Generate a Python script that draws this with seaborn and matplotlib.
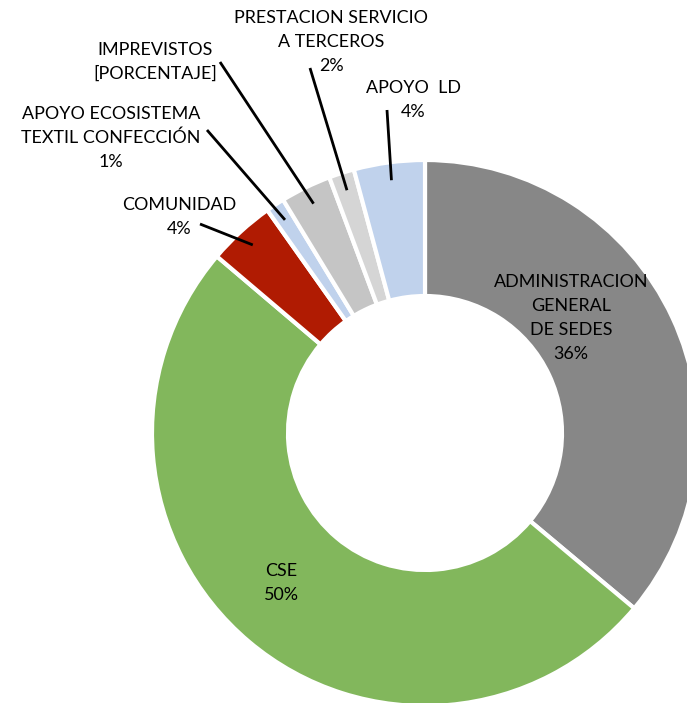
import numpy as np
import matplotlib
matplotlib.use("Agg")
import matplotlib.pyplot as plt
import seaborn as sns

# ---- data ----
categories = ["ADMINISTRACION\nGENERAL\nDE SEDES", "CSE", "COMUNIDAD",
              "APOYO ECOSISTEMA\nTEXTIL CONFECCIÓN", "IMPREVISTOS",
              "PRESTACION SERVICIO\nA TERCEROS", "APOYO  LD"]
values = [36.1, 50.1, 4.0, 1.1, 3.0, 1.5, 4.2]
value_labels = ["36%", "50%", "4%", "1%", "[PORCENTAJE]", "2%", "4%"]
colors = ["#878787", "#82b75c", "#b01b02", "#c0d2ec", "#c5c5c5", "#d5d5d5", "#c0d2ec"]

sns.set_theme(style="white")
plt.rcParams['font.family'] = ['Lato', 'DejaVu Sans']

W, H = 687, 703
fig = plt.figure(figsize=(W / 100, H / 100), dpi=100)
ax = fig.add_axes([0, 0, 1, 1])

cx, cy = 425, H - 433
R = 273
ring = 136
wedges, _ = ax.pie(values, colors=colors, startangle=90, counterclock=False,
                   radius=R, center=(cx, cy), frame=True,
                   wedgeprops=dict(width=ring, edgecolor="white", linewidth=3))
ax.set_xlim(0, W)
ax.set_ylim(0, H)
ax.set_aspect("equal")
ax.axis("off")

fs = 12.9
ls = 1.6

def label_text(i):
    return categories[i] + "\n" + value_labels[i]

# inside labels (pixel coords from top)
inside = {0: (571, 318), 1: (281, 583)}
for i, (x, y) in inside.items():
    ax.text(x, H - y, label_text(i), ha="center", va="center", fontsize=fs,
            linespacing=ls, color="black")

# outside labels with leader lines: text center, leader start
outside = {
    2: ((179, 217), (200, 224)),
    3: ((111, 138), (207, 130)),
    4: ((155, 62), (220, 62)),
    5: ((331, 42), (310, 68)),
    6: ((413, 100), (387, 110)),
}
for i, ((tx, ty), (lx, ly)) in outside.items():
    ax.text(tx, H - ty, label_text(i), ha="center", va="center", fontsize=fs,
            linespacing=ls, color="black")
    w = wedges[i]
    mid = np.deg2rad((w.theta1 + w.theta2) / 2)
    r = R - 18
    ex, ey = cx + r * np.cos(mid), cy + r * np.sin(mid)
    ax.plot([lx, ex], [H - ly, ey], color="black", lw=2, solid_capstyle="butt")

fig.savefig("out.png", dpi=100)
